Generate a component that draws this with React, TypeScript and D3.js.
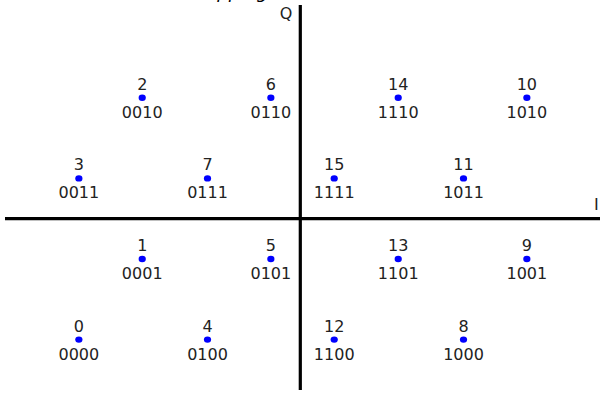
import React from "react";
import * as d3 from "d3";

const symbols = [0, 1, 2, 3, 4, 5, 6, 7, 8, 9, 10, 11, 12, 13, 14, 15];
const codes = ["0000","0001","0010","0011","0100","0101","0110","0111","1000","1001","1010","1011","1100","1101","1110","1111"];
const iValues = [-3.46, -2.47, -2.47, -3.46, -1.45, -0.46, -0.46, -1.45, 2.55, 3.54, 3.54, 2.55, 0.53, 1.53, 1.53, 0.53];
const qValues = [-1.5, -0.5, 1.5, 0.5, -1.5, -0.5, 1.5, 0.5, -1.5, -0.5, 1.5, 0.5, -1.5, -0.5, 1.5, 0.5];

const W = 600;
const H = 393;
const FONT = "'DejaVu Sans', sans-serif";

export default function App() {
  const x = d3.scaleLinear().domain([-300.3 / 64, (W - 300.3) / 64]).range([0, W]);
  const y = d3.scaleLinear().domain([218.7 / 80.6, -(H - 218.7) / 80.6]).range([0, H]);
  const iExtent = [x.invert(5), x.invert(W)];
  const qExtent = [y.invert(5), y.invert(390)];

  return (
    <div style={{ position: "fixed", left: 0, top: 0, width: W, height: H }}>
      <svg width={W} height={H} style={{ display: "block", background: "#fff" }}>
        <text x={268} y={-1.6} textAnchor="end" fontFamily={FONT} fontSize={18} fontStyle="italic" fill="#000">
          16-QAM mapping
        </text>
        <line x1={x(iExtent[0])} x2={x(iExtent[1])} y1={y(0)} y2={y(0)} stroke="#000" strokeWidth={3.2} />
        <line x1={x(0)} x2={x(0)} y1={y(qExtent[0])} y2={y(qExtent[1])} stroke="#000" strokeWidth={3.2} />
        <text x={x(0) - 8} y={19} textAnchor="end" fontFamily={FONT} fontSize={16} fill="#222">Q</text>
        <text x={594} y={y(0) - 9} fontFamily={FONT} fontSize={16} fill="#222">I</text>
        {symbols.map((s, k) => {
          const cx = x(iValues[k]);
          const cy = y(qValues[k]);
          return (
            <g key={s}>
              <ellipse cx={cx} cy={cy} rx={3.6} ry={3.2} fill="#0000ff" />
              <text x={cx} y={cy - 8} textAnchor="middle" fontFamily={FONT} fontSize={16} fill="#222">{s}</text>
              <text x={cx} y={cy + 20} textAnchor="middle" fontFamily={FONT} fontSize={16} fill="#222">{codes[k]}</text>
            </g>
          );
        })}
      </svg>
    </div>
  );
}
